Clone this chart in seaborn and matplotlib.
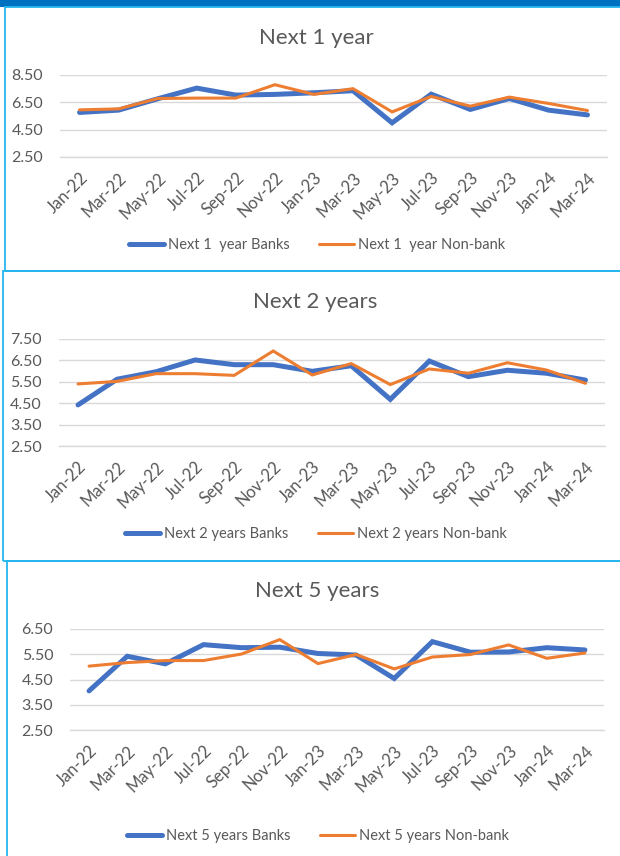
import matplotlib
matplotlib.use("Agg")
import matplotlib.pyplot as plt
import matplotlib.patches as mpatches
import numpy as np
import pandas as pd
import seaborn as sns

# Survey months (bi-monthly)
months = ["Jan-22", "Mar-22", "May-22", "Jul-22", "Sep-22", "Nov-22", "Jan-23",
          "Mar-23", "May-23", "Jul-23", "Sep-23", "Nov-23", "Jan-24", "Mar-24"]

# Inflation expectations, next 1 year
banks_1y = [5.76, 5.93, 6.76, 7.54, 7.03, 7.08, 7.20, 7.35, 5.00, 7.10, 5.98, 6.78, 5.93, 5.58]
nonbank_1y = [5.95, 6.02, 6.78, 6.81, 6.81, 7.79, 7.08, 7.50, 5.80, 6.93, 6.22, 6.88, 6.42, 5.90]

# Inflation expectations, next 2 years
banks_2y = [4.42, 5.62, 5.97, 6.52, 6.30, 6.30, 5.99, 6.25, 4.68, 6.47, 5.74, 6.04, 5.90, 5.58]
nonbank_2y = [5.40, 5.52, 5.88, 5.88, 5.80, 6.94, 5.82, 6.35, 5.37, 6.10, 5.90, 6.39, 6.05, 5.43]

# Inflation expectations, next 5 years
banks_5y = [4.05, 5.42, 5.12, 5.88, 5.76, 5.78, 5.53, 5.47, 4.54, 6.00, 5.58, 5.59, 5.76, 5.67]
nonbank_5y = [5.03, 5.17, 5.25, 5.25, 5.51, 6.08, 5.13, 5.49, 4.92, 5.39, 5.49, 5.87, 5.34, 5.55]

titles = ["Next 1 year", "Next 2 years", "Next 5 years"]
bank_labels = ["Next 1  year Banks", "Next 2 years Banks", "Next 5 years Banks"]
nonbank_labels = ["Next 1  year Non-bank", "Next 2 years Non-bank", "Next 5 years Non-bank"]
y_ticks = [[2.5, 4.5, 6.5, 8.5],
           [2.5, 3.5, 4.5, 5.5, 6.5, 7.5],
           [2.5, 3.5, 4.5, 5.5, 6.5]]

sns.set_theme(style="white")
plt.rcParams["font.family"] = ["Lato", "DejaVu Sans"]

W, H = 620, 856
fig = plt.figure(figsize=(W / 100, H / 100), dpi=100)

TXT = "#595959"
GRID = "#D9D9D9"
BLUE = "#4472C4"
ORANGE = "#ED7D31"
FRAME = "#25B5EE"


def fx(px):
    return px / W


def fy(py):
    return 1 - py / H


# top band and panel frames (pixel boxes: left, top, right, bottom)
fig.patches.append(mpatches.Rectangle((0, fy(7)), 1, 7 / H, transform=fig.transFigure,
                                      facecolor="#0070C0", edgecolor="none", zorder=0))
frames = [(4.5, 7.5, 640, 270.5), (2.5, 271, 640, 560.5), (6.5, 561, 640, 900)]
for l, t, r, b in frames:
    fig.patches.append(mpatches.Rectangle((fx(l), fy(b)), fx(r - l), (b - t) / H,
                                          transform=fig.transFigure, facecolor="none",
                                          edgecolor=FRAME, linewidth=1.3, zorder=1))

# axes boxes in pixels: left, top, right, bottom
axes_px = [(60, 75, 607, 157), (58.5, 339, 605, 446), (70, 629, 604, 730)]
title_px = [(316, 38), (315, 302), (317.5, 591)]
legend_px = [(317, 245), (316, 534), (318, 836)]

series = [(banks_1y, nonbank_1y), (banks_2y, nonbank_2y), (banks_5y, nonbank_5y)]

for i in range(3):
    l, t, r, b = axes_px[i]
    ax = fig.add_axes([fx(l), fy(b), fx(r - l), (b - t) / H])
    ax.set_facecolor("none")
    bank, nonbank = series[i]
    df = pd.DataFrame({"Month": months * 2,
                       "Value": bank + nonbank,
                       "Series": [bank_labels[i]] * len(months) + [nonbank_labels[i]] * len(months)})
    sns.lineplot(data=df[df["Series"] == bank_labels[i]], x="Month", y="Value",
                 color=BLUE, linewidth=3.6, ax=ax, label=bank_labels[i],
                 solid_joinstyle="miter", sort=False)
    sns.lineplot(data=df[df["Series"] == nonbank_labels[i]], x="Month", y="Value",
                 color=ORANGE, linewidth=2.2, ax=ax, label=nonbank_labels[i],
                 solid_joinstyle="miter", sort=False)

    yt = y_ticks[i]
    ax.set_ylim(yt[0], yt[-1])
    ax.set_yticks(yt)
    ax.set_yticklabels([f"{v:.2f}" for v in yt], color=TXT, fontsize=11.5)
    ax.yaxis.grid(True, color=GRID, linewidth=1.0)
    ax.set_axisbelow(True)
    ax.set_xlim(-0.5, len(months) - 0.5)
    ax.set_xticks(range(len(months)))
    ax.set_xticklabels(months, rotation=45, ha="right", rotation_mode="anchor",
                       color=TXT, fontsize=12)
    ax.set_xticks(np.arange(-0.5, len(months), 1.0), minor=True)
    ax.tick_params(axis="x", which="major", length=0, pad=9)
    ax.tick_params(axis="x", which="minor", length=5, width=1.0, color=GRID, direction="out")
    ax.tick_params(axis="y", length=0, pad=12)
    for s in ["top", "right", "left"]:
        ax.spines[s].set_visible(False)
    ax.spines["bottom"].set_color(GRID)
    ax.spines["bottom"].set_linewidth(1.0)
    ax.set_xlabel("")
    ax.set_ylabel("")

    handles, labels = ax.get_legend_handles_labels()
    ax.get_legend().remove()
    lx, ly = legend_px[i]
    fig.legend(handles, labels, loc="center", bbox_to_anchor=(fx(lx), fy(ly)),
               ncol=2, frameon=False, fontsize=10.5, handlelength=2.4,
               handletextpad=0.27, columnspacing=2.0, labelcolor=TXT)

    tx, ty = title_px[i]
    fig.text(fx(tx), fy(ty), titles[i], ha="center", va="center",
             fontsize=16, color=TXT)

fig.savefig("out.png", dpi=100)
